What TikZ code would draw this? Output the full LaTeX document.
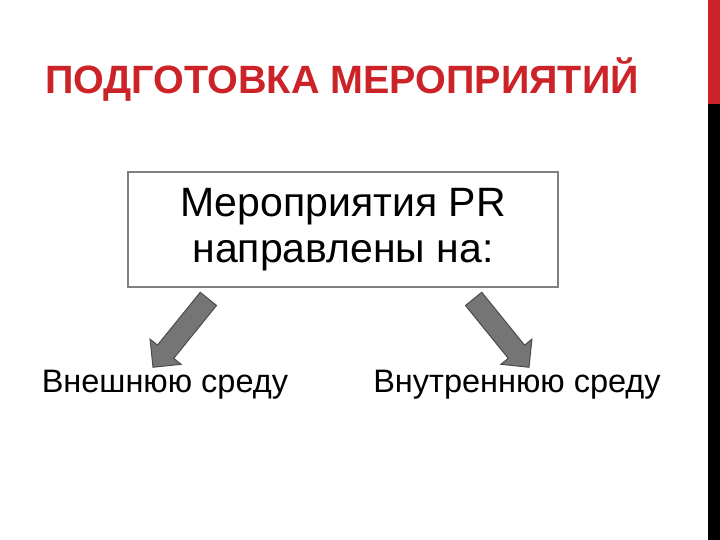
\documentclass[tikz,border=0pt]{standalone}
\usepackage{fontspec}
\setmainfont{Liberation Sans}
\usetikzlibrary{shapes.arrows}
\definecolor{titlered}{RGB}{204,35,40}
\tikzset{
 blk/.style={single arrow, draw=gray!60!black, fill=gray!80!black!90, line width=1pt,
   minimum height=88pt, minimum width=40pt, single arrow head extend=5pt, inner sep=5pt},
 lbl/.style={font=\fontsize{32.5}{36}\selectfont, inner sep=0pt}
}
\begin{document}
\begin{tikzpicture}[x=1pt,y=-1pt]
\useasboundingbox (0,0) rectangle (720,540);
\fill[white] (0,0) rectangle (720,540);
\fill[titlered] (708,0) rectangle (720,104);
\fill[black] (708,104) rectangle (720,540);
\node[anchor=west, text=titlered, font=\bfseries\fontsize{39.5}{42}\selectfont, inner sep=0pt] (title) at (45,80) {ПОДГОТОВКА МЕРОПРИЯТИЙ};
\node[draw=gray, line width=1.2pt, minimum width=430pt, minimum height=115pt, align=center,
  font=\fontsize{41}{46}\selectfont] (box) at (343,229.5) {Мероприятия PR\\направлены на:};
\node[blk, rotate=-129] (a1) at (184,329) {};
\node[blk, rotate=-51] (a2) at (498,329) {};
\node[lbl] (t1) at (165,385) {Внешнюю среду};
\node[lbl] (t2) at (517,385) {Внутреннюю среду};
\end{tikzpicture}
\end{document}
